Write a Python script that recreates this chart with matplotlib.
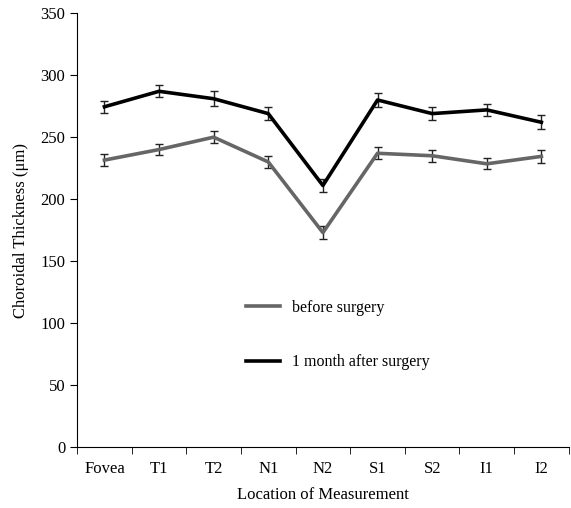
import numpy as np
import matplotlib.pyplot as plt

plt.rcParams['font.family'] = ['Liberation Serif', 'DejaVu Serif']

locations = ["Fovea", "T1", "T2", "N1", "N2", "S1", "S2", "I1", "I2"]
before = [231.5, 240, 250, 230, 173, 237, 235, 228.5, 234.5]
before_err = [5, 4.5, 5, 4.5, 5, 5, 5, 4.5, 5]
after = [274.5, 287, 281, 269, 211, 280, 269, 272, 262]
after_err = [5, 5, 6, 5, 5, 6, 5, 5, 5.5]

x = np.arange(len(locations))

fig = plt.figure(figsize=(5.71, 5.08), dpi=100)
ax = fig.add_axes([0.135, 0.12, 0.861, 0.854])

ax.errorbar(x, before, yerr=before_err, color='#666666', lw=2.6, ecolor='#222222',
            elinewidth=1, capsize=3, capthick=1, label='before surgery')
ax.errorbar(x, after, yerr=after_err, color='black', lw=2.6, ecolor='#222222',
            elinewidth=1, capsize=3, capthick=1, label='1 month after surgery')

ax.set_xlim(-0.5, len(locations) - 0.5)
ax.set_ylim(0, 350)
ax.set_yticks(range(0, 351, 50))
ax.set_xticks(x)
ax.set_xticklabels(locations)
ax.set_xticks(np.arange(-0.5, len(locations), 1), minor=True)
ax.tick_params(axis='x', which='major', length=0, pad=10, labelsize=12)
ax.tick_params(axis='x', which='minor', length=5, direction='out')
ax.tick_params(axis='y', length=5, direction='out', labelsize=12)
for s in ['top', 'right']:
    ax.spines[s].set_visible(False)

ax.set_ylabel('Choroidal Thickness (μm)', fontsize=12, labelpad=8)
ax.set_xlabel('Location of Measurement', fontsize=12, labelpad=7)

h, l = ax.get_legend_handles_labels()
h = [hh[0] for hh in h]
ax.legend(h, l, loc='center left', bbox_to_anchor=(0.315, 0.258), frameon=False,
          handlelength=2.1, labelspacing=2.4, fontsize=11.5, handletextpad=0.75)

fig.savefig('out.png', dpi=100)
